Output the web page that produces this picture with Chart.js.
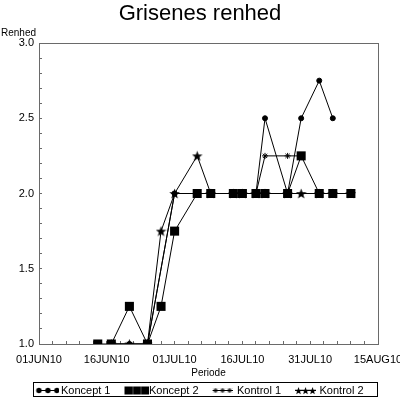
<!DOCTYPE html>
<html>
<head>
<meta charset="utf-8">
<script src="https://cdn.jsdelivr.net/npm/chart.js@4.4.0/dist/chart.umd.min.js"></script>
<style>
  html, body { margin: 0; padding: 0; background: #fff; }
</style>
</head>
<body>
<canvas id="chart" width="400" height="399"></canvas>
<script>
// sample dates and values
const sampleDates = ['2010-06-14', '2010-06-17', '2010-06-21', '2010-06-25', '2010-06-28', '2010-07-01',
  '2010-07-06', '2010-07-09', '2010-07-14', '2010-07-16', '2010-07-19', '2010-07-21',
  '2010-07-26', '2010-07-29', '2010-08-02', '2010-08-05', '2010-08-09'];
const koncept1 = [null, 1, 1, 1, null, 2, 2, 2, 2, 2, 2, 2.5, 2, 2.5, 2.75, 2.5, null];
const koncept2 = [1, 1, 1.25, 1, 1.25, 1.75, 2, 2, 2, 2, 2, 2, 2, 2.25, 2, 2, 2];
const kontrol1 = [null, 1, 1, 1, null, 2, 2, 2, 2, 2, 2, 2.25, 2.25, 2.25, null, null, null];
const kontrol2 = [null, 1, 1, 1, 1.75, 2, 2.25, 2, 2, 2, 2, 2, 2, 2, 2, 2, 2];
const seriesNames = ['Koncept 1', 'Koncept 2', 'Kontrol 1', 'Kontrol 2'];

const axisStart = '2010-06-01';
const axisEnd = '2010-08-15';
const yMin = 1;
const yMax = 3;

const months = ['JAN', 'FEB', 'MAR', 'APR', 'MAY', 'JUN', 'JUL', 'AUG', 'SEP', 'OCT', 'NOV', 'DEC'];
const dayMs = 86400000;
const originMs = Date.parse(axisStart);
const toDay = s => (Date.parse(s) - originMs) / dayMs;
const dayLabel = d => {
  const dt = new Date(originMs + d * dayMs);
  return String(dt.getUTCDate()).padStart(2, '0') + months[dt.getUTCMonth()] + String(dt.getUTCFullYear()).slice(2);
};
const toPoints = vals => sampleDates
  .map((d, i) => ({x: toDay(d), y: vals[i]}))
  .filter(p => p.y !== null);

Chart.defaults.font.family = "'Liberation Sans', Arial, sans-serif";
Chart.defaults.color = '#000';

const makeCanvas = (w, h) => {
  const c = document.createElement('canvas');
  c.width = w;
  c.height = h;
  return c;
};

function starPath(ctx, cx, cy, r) {
  ctx.beginPath();
  for (let i = 0; i < 10; i++) {
    const rad = i % 2 ? r * 0.42 : r;
    const a = -Math.PI / 2 + i * Math.PI / 5;
    ctx.lineTo(cx + rad * Math.cos(a), cy + rad * Math.sin(a));
  }
  ctx.closePath();
  ctx.fill();
}

function asterisk(ctx, cx, cy, r) {
  ctx.beginPath();
  ctx.moveTo(cx - r, cy); ctx.lineTo(cx + r, cy);
  ctx.moveTo(cx, cy - r); ctx.lineTo(cx, cy + r);
  ctx.moveTo(cx - r * 0.7, cy - r * 0.7); ctx.lineTo(cx + r * 0.7, cy + r * 0.7);
  ctx.moveTo(cx - r * 0.7, cy + r * 0.7); ctx.lineTo(cx + r * 0.7, cy - r * 0.7);
  ctx.stroke();
}

// filled five point star marker for Kontrol 2
const starMarker = makeCanvas(11, 11);
(() => {
  const ctx = starMarker.getContext('2d');
  ctx.fillStyle = '#000';
  starPath(ctx, 5.5, 6, 5.5);
})();

// legend samples: three markers on a line, drawn from the item's left edge
const legendBox = 19;
function legendSymbol(symW, draw) {
  const cw = Math.max(2 * (symW - legendBox / 2), symW);
  const c = makeCanvas(cw, 11);
  const ctx = c.getContext('2d');
  ctx.fillStyle = '#000';
  ctx.strokeStyle = '#000';
  ctx.lineWidth = 1;
  draw(ctx, cw / 2 - legendBox / 2, 5.5);
  return c;
}
const line = (ctx, x0, x1, y) => {
  ctx.beginPath(); ctx.moveTo(x0, y); ctx.lineTo(x1, y); ctx.stroke();
};
const legendSymbols = [
  legendSymbol(23, (ctx, sx, y) => {
    line(ctx, sx, sx + 23, y);
    [2.5, 11.5, 20.5].forEach(o => { ctx.beginPath(); ctx.arc(sx + o, y, 2.7, 0, Math.PI * 2); ctx.fill(); });
  }),
  legendSymbol(25, (ctx, sx, y) => {
    [0, 8.4, 16.8].forEach(o => ctx.fillRect(sx + o, y - 4, 8.2, 8));
  }),
  legendSymbol(20, (ctx, sx, y) => {
    line(ctx, sx, sx + 20, y);
    [3, 10, 17].forEach(o => asterisk(ctx, sx + o, y, 2.5));
  }),
  legendSymbol(21, (ctx, sx, y) => {
    line(ctx, sx, sx + 21, y);
    [3.5, 10.5, 17.5].forEach(o => starPath(ctx, sx + o, y + 0.5, 3.9));
  })
];

const frameColor = '#6a6a6a';

const extraText = {
  id: 'extraText',
  afterDraw(chart) {
    const ctx = chart.ctx;
    ctx.save();
    ctx.fillStyle = '#000';
    ctx.font = "10px 'Liberation Sans', Arial, sans-serif";
    ctx.textBaseline = 'middle';
    ctx.textAlign = 'left';
    ctx.fillText('Renhed', 1, 33);
    // border round the legend
    const boxes = chart.legend.legendHitBoxes;
    const first = boxes[0];
    const last = boxes[boxes.length - 1];
    const left = Math.round(first.left) - 2.5;
    const right = Math.round(last.left + last.width) + 13.5;
    ctx.strokeStyle = '#000';
    ctx.lineWidth = 1;
    ctx.strokeRect(left, Math.round(first.top) - 2.5, right - left, 14);
    ctx.restore();
  }
};

new Chart(document.getElementById('chart'), {
  type: 'line',
  data: {
    datasets: [
      {
        label: seriesNames[0],
        data: toPoints(koncept1),
        pointStyle: 'circle',
        pointRadius: 2.5,
        pointBorderWidth: 1,
        order: 2
      },
      {
        label: seriesNames[1],
        data: toPoints(koncept2),
        pointStyle: 'rect',
        pointRadius: 6.4,
        pointBorderWidth: 0,
        order: 0
      },
      {
        label: seriesNames[2],
        data: toPoints(kontrol1),
        pointStyle: 'star',
        pointRadius: 3,
        pointBorderWidth: 1,
        order: 3
      },
      {
        label: seriesNames[3],
        data: toPoints(kontrol2),
        pointStyle: starMarker,
        order: 1
      }
    ].map(ds => Object.assign({
      borderColor: '#000',
      backgroundColor: '#000',
      pointBackgroundColor: '#000',
      pointBorderColor: '#000',
      borderWidth: 1,
      tension: 0
    }, ds))
  },
  options: {
    responsive: false,
    animation: false,
    events: [],
    layout: {
      padding: 0
    },
    plugins: {
      title: {
        display: true,
        text: 'Grisenes renhed',
        color: '#000',
        font: {size: 22, weight: 'normal'},
        padding: {top: 1, bottom: 15.6}
      },
      legend: {
        position: 'bottom',
        maxHeight: 28,
        labels: {
          usePointStyle: true,
          pointStyleWidth: legendBox,
          padding: 14,
          color: '#000',
          font: {size: 11},
          generateLabels: chart => chart.data.datasets.map((ds, i) => ({
            text: ds.label,
            pointStyle: legendSymbols[i],
            fillStyle: '#000',
            strokeStyle: '#000',
            lineWidth: 0,
            hidden: false,
            datasetIndex: i
          }))
        }
      },
      tooltip: {
        enabled: false
      }
    },
    scales: {
      x: {
        type: 'linear',
        position: 'bottom',
        min: toDay(axisStart),
        max: toDay(axisEnd),
        afterFit: s => {
          s.height = 27;
          s.paddingLeft = 0;
          s.paddingRight = 0;
        },
        ticks: {
          stepSize: 3,
          autoSkip: false,
          maxRotation: 0,
          padding: 12,
          color: '#000',
          font: {size: 11},
          callback: v => (v % 15 === 0 ? dayLabel(v) : '')
        },
        grid: {drawOnChartArea: false, tickLength: -3, color: frameColor},
        border: {color: frameColor},
        title: {
          display: true,
          text: 'Periode',
          color: '#000',
          font: {size: 10},
          padding: {top: 0, bottom: -8}
        }
      },
      x2: {
        type: 'linear',
        position: 'top',
        min: toDay(axisStart),
        max: toDay(axisEnd),
        afterFit: s => {
          s.height = 0;
          s.paddingLeft = 0;
          s.paddingRight = 0;
        },
        ticks: {display: false},
        grid: {display: false},
        border: {color: frameColor}
      },
      y: {
        min: yMin,
        max: yMax,
        afterFit: s => { s.width = 39; },
        ticks: {
          stepSize: 0.1,
          autoSkip: false,
          padding: 8,
          color: '#000',
          font: {size: 11},
          callback: v => (Math.round(v * 10) % 5 === 0 ? v.toFixed(1) : '')
        },
        grid: {drawOnChartArea: false, tickLength: -3, color: frameColor},
        border: {color: frameColor}
      },
      y2: {
        position: 'right',
        min: yMin,
        max: yMax,
        afterFit: s => { s.width = 22; },
        ticks: {display: false},
        grid: {display: false},
        border: {color: frameColor}
      }
    }
  },
  plugins: [extraText]
});
</script>
</body>
</html>
